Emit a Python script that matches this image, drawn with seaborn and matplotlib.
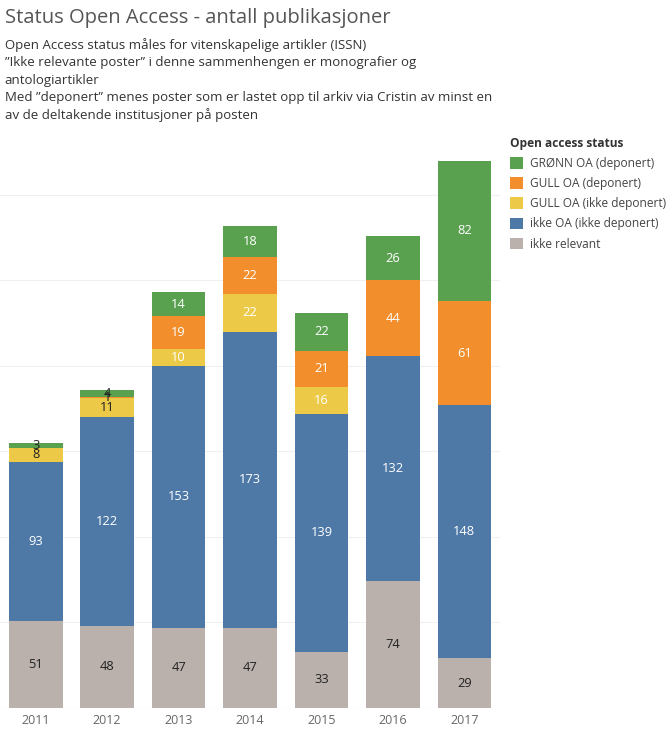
import matplotlib
matplotlib.use("Agg")
import matplotlib.pyplot as plt
import seaborn as sns
import pandas as pd
import numpy as np
from matplotlib.patches import Patch

years = ["2011", "2012", "2013", "2014", "2015", "2016", "2017"]
statuses = ["ikke relevant", "ikke OA (ikke deponert)", "GULL OA (ikke deponert)",
            "GULL OA (deponert)", "GRØNN OA (deponert)"]
ikke_relevant = [51, 48, 47, 47, 33, 74, 29]
ikke_oa = [93, 122, 153, 173, 139, 132, 148]
gull_ikke_dep = [8, 11, 10, 22, 16, 0, 0]
gull_dep = [0, 1, 19, 22, 21, 44, 61]
gronn_dep = [3, 4, 14, 18, 22, 26, 82]
colors = ["#BAB0AC", "#4E79A7", "#EDC948", "#F28E2B", "#59A14F"]

sns.set_theme(style="white")
plt.rcParams['font.family'] = ['Open Sans', 'DejaVu Sans']

values = [ikke_relevant, ikke_oa, gull_ikke_dep, gull_dep, gronn_dep]
df = pd.DataFrame({s: v for s, v in zip(statuses, values)}, index=years)
cum = df.cumsum(axis=1)

fig = plt.figure(figsize=(6.71, 7.30), dpi=100)
ax = fig.add_axes([0.0, 22 / 730, 500 / 671, (708 - 130) / 730])

# draw cumulative bars from the top layer down, so each layer covers the one above
for i in range(len(statuses) - 1, -1, -1):
    d = pd.DataFrame({"year": years, "val": cum[statuses[i]].values})
    sns.barplot(data=d, x="year", y="val", color=colors[i], saturation=1,
                width=0.75, ax=ax, linewidth=0)

ax.set_ylim(0, 338)
ax.set_xlim(-0.5, 6.5)
ax.set_yticks(np.arange(0, 338, 50))
ax.yaxis.grid(True, color="#f0f0f0", linewidth=0.8)
ax.set_axisbelow(True)
ax.set_yticklabels([])
ax.tick_params(axis="y", length=0)
ax.tick_params(axis="x", length=0, labelsize=9, labelcolor="#666666", pad=4)
ax.set_xlabel("")
ax.set_ylabel("")
for s in ax.spines.values():
    s.set_visible(False)
ax.axhline(0, color="#e6e6e6", linewidth=0.8)

# segment labels
for xi, y in enumerate(years):
    bottom = 0
    for i, s in enumerate(statuses):
        v = df.loc[y, s]
        if v > 0:
            if i == 0 or y in ("2011", "2012") and i >= 2:
                c = "#222222"
            else:
                c = "white"
            ax.text(xi, bottom + v / 2, str(v), ha="center", va="center",
                    fontsize=9.3, color=c)
        bottom += v

fig.text(0.007, 1 - 18 / 730, "Status Open Access - antall publikasjoner",
         fontsize=14.5, color="#555555", va="center", ha="left")
sub = ["Open Access status måles for vitenskapelige artikler (ISSN)",
       "\u201dIkke relevante poster\u201d i denne sammenhengen er monografier og",
       "antologiartikler",
       "Med \u201ddeponert\u201d menes poster som er lastet opp til arkiv via Cristin av minst en",
       "av de deltakende institusjoner på posten"]
for k, line in enumerate(sub):
    fig.text(0.007, 1 - (45 + 17.6 * k) / 730, line, fontsize=9.5,
             color="#333333", va="center", ha="left")

handles = [Patch(facecolor=colors[i], edgecolor="none") for i in range(4, -1, -1)]
labels = [statuses[i] for i in range(4, -1, -1)]
leg = fig.legend(handles, labels, title="Open access status", loc="upper left",
                 bbox_to_anchor=(505 / 671, 1 - 132 / 730), frameon=False,
                 fontsize=8.6, title_fontsize=8.6, handlelength=1.1,
                 handleheight=1.1, handletextpad=0.6, labelspacing=0.6,
                 alignment="left", borderaxespad=0)
leg.get_title().set_fontweight("bold")
leg.get_title().set_color("#333333")
for t in leg.get_texts():
    t.set_color("#444444")

fig.savefig("out.png", dpi=100)
